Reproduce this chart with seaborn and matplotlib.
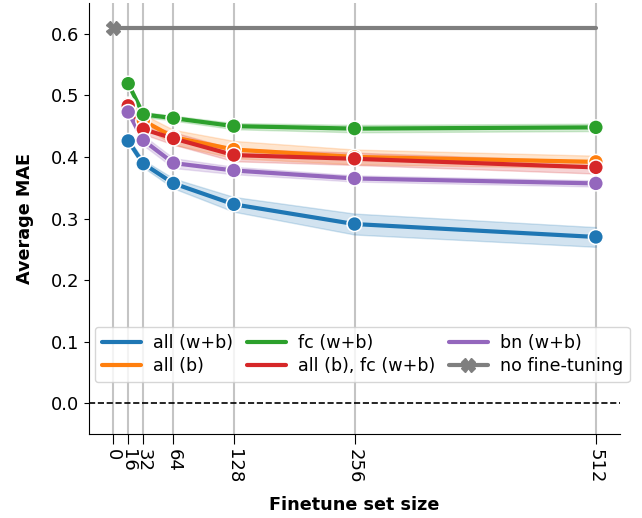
import numpy as np
import pandas as pd
import matplotlib
matplotlib.use("Agg")
import matplotlib.pyplot as plt
import seaborn as sns

# tamanhos do conjunto de fine-tuning
sizes = [16, 32, 64, 128, 256, 512]
xticks = [0, 16, 32, 64, 128, 256, 512]

metodos = ["all (w+b)", "all (b)", "fc (w+b)", "all (b), fc (w+b)", "bn (w+b)"]

# MAE medio e meia-largura da faixa
mae_all_wb = [0.426, 0.389, 0.357, 0.323, 0.291, 0.270]
err_all_wb = [0.005, 0.006, 0.008, 0.012, 0.017, 0.016]
mae_all_b = [0.485, 0.459, 0.432, 0.412, 0.400, 0.392]
err_all_b = [0.006, 0.010, 0.012, 0.014, 0.012, 0.010]
mae_fc_wb = [0.519, 0.469, 0.463, 0.450, 0.446, 0.448]
err_fc_wb = [0.004, 0.004, 0.004, 0.005, 0.006, 0.006]
mae_all_b_fc_wb = [0.483, 0.445, 0.430, 0.403, 0.397, 0.383]
err_all_b_fc_wb = [0.005, 0.008, 0.010, 0.010, 0.010, 0.010]
mae_bn_wb = [0.473, 0.427, 0.390, 0.378, 0.365, 0.357]
err_bn_wb = [0.006, 0.008, 0.008, 0.006, 0.005, 0.005]

# sem fine-tuning
mae_no_ft = 0.61
no_ft_x = [0, 512]

medias = [mae_all_wb, mae_all_b, mae_fc_wb, mae_all_b_fc_wb, mae_bn_wb]
erros = [err_all_wb, err_all_b, err_fc_wb, err_all_b_fc_wb, err_bn_wb]

# montar tabela longa: min, mediana, max por ponto
linhas = []
for nome, m, e in zip(metodos, medias, erros):
    for s, v, d in zip(sizes, m, e):
        for val in (v - d, v, v + d):
            linhas.append({"size": s, "mae": val, "metodo": nome})
df = pd.DataFrame(linhas)
df_pontos = pd.DataFrame(
    [{"size": s, "mae": v, "metodo": nome}
     for nome, m in zip(metodos, medias) for s, v in zip(sizes, m)])

sns.set_style("ticks")
plt.rcParams.update({
    "text.color": "black", "axes.labelcolor": "black",
    "xtick.color": "black", "ytick.color": "black",
    "axes.edgecolor": "black",
})
paleta = sns.color_palette("tab10")[:5]

fig = plt.figure(figsize=(6.42, 5.18), dpi=100)
ax = fig.add_axes([89 / 642, 1 - 434 / 518, (620 - 89) / 642, 431 / 518])

ax.axhline(0, color="black", ls="--", lw=1.2, zorder=1)

sns.lineplot(data=df, x="size", y="mae", hue="metodo", hue_order=metodos,
             palette=paleta, estimator="median", errorbar=("pi", 100),
             lw=3, ax=ax, zorder=3)
sns.scatterplot(data=df_pontos, x="size", y="mae", hue="metodo",
                hue_order=metodos, palette=paleta, s=115, edgecolor="white",
                linewidth=1.1, legend=False, ax=ax, zorder=4)

ax.plot(no_ft_x, [mae_no_ft] * len(no_ft_x), color="#7f7f7f", lw=3,
        marker="X", markersize=10, markevery=[0], label="no fine-tuning",
        zorder=5)

ax.set_xticks(xticks)
ax.set_xticklabels([str(t) for t in xticks], rotation=270, fontsize=13)
ax.tick_params(axis="y", labelsize=13)
ax.tick_params(axis="x", length=7.2)
ax.grid(axis="x", color="#c4c4c4", lw=1.5)
ax.set_axisbelow(True)
ax.set_ylim(-0.05, 0.65)
ax.set_yticks([0.0, 0.1, 0.2, 0.3, 0.4, 0.5, 0.6])
ax.set_xlabel("Finetune set size", fontsize=12.7, fontweight="bold",
              labelpad=9.5)
ax.set_ylabel("Average MAE", fontsize=12.7, fontweight="bold")
ax.yaxis.set_label_coords(-0.103, 0.5)
sns.despine(ax=ax)

handles, labels = ax.get_legend_handles_labels()
ax.legend(handles, labels, ncol=3, fontsize=12.6, loc="lower left",
          bbox_to_anchor=(95 / 642, 1 - 382 / 518),
          bbox_transform=fig.transFigure, borderaxespad=0,
          handlelength=2.25, columnspacing=0.8, handletextpad=0.65,
          labelspacing=0.3)

fig.savefig("out.png", dpi=100)
